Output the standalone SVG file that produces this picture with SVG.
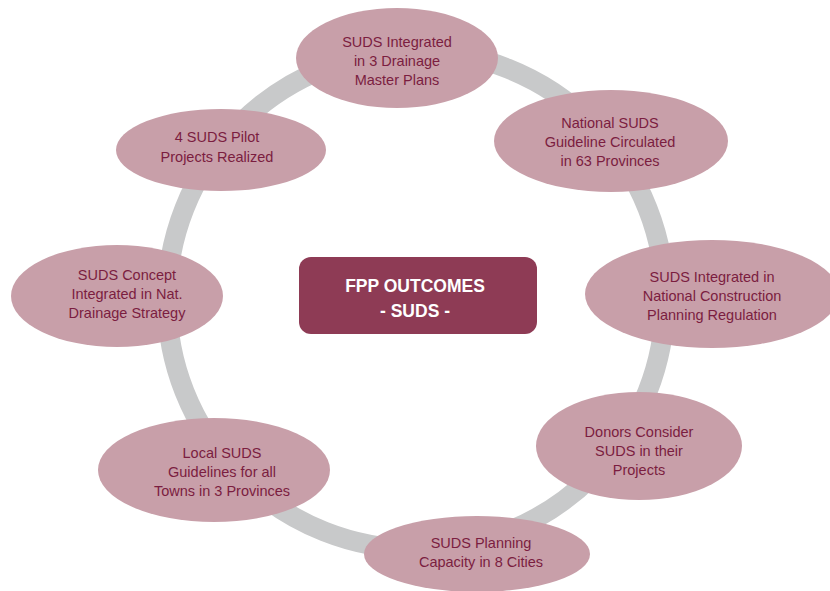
<svg xmlns="http://www.w3.org/2000/svg" width="830" height="591" viewBox="0 0 830 591">
<style>
.n ellipse{fill:#c89fa9;}
.n text{font-family:"Liberation Sans",Arial,sans-serif;font-size:14.5px;fill:#7b1d40;text-anchor:middle;}
.c text{font-family:"Liberation Sans",Arial,sans-serif;font-size:17.5px;font-weight:bold;fill:#ffffff;text-anchor:middle;}
</style>
<rect width="830" height="591" fill="#ffffff"/>
<g id="connectors">
<circle cx="416" cy="300" r="249" fill="none" stroke="#c8c9ca" stroke-width="20"/>
</g>
<g id="n1" class="n"><ellipse cx="397" cy="58" rx="101" ry="50"/><text x="397" y="47">SUDS Integrated</text><text x="397" y="66">in 3 Drainage</text><text x="397" y="85">Master Plans</text></g>
<g id="n2" class="n"><ellipse cx="611" cy="141" rx="117" ry="51"/><text x="610" y="128">National SUDS</text><text x="610" y="147">Guideline Circulated</text><text x="610" y="166">in 63 Provinces</text></g>
<g id="n3" class="n"><ellipse cx="712" cy="294" rx="127" ry="54"/><text x="712" y="282">SUDS Integrated in</text><text x="712" y="301">National Construction</text><text x="712" y="320">Planning Regulation</text></g>
<g id="n4" class="n"><ellipse cx="639" cy="446" rx="103" ry="54"/><text x="639" y="437">Donors Consider</text><text x="639" y="456">SUDS in their</text><text x="639" y="475">Projects</text></g>
<g id="n5" class="n"><ellipse cx="477" cy="554" rx="113" ry="38"/><text x="481" y="548">SUDS Planning</text><text x="481" y="567">Capacity in 8 Cities</text></g>
<g id="n6" class="n"><ellipse cx="214" cy="470" rx="116" ry="52"/><text x="222" y="458">Local SUDS</text><text x="222" y="477">Guidelines for all</text><text x="222" y="496">Towns in 3 Provinces</text></g>
<g id="n7" class="n"><ellipse cx="117" cy="296" rx="106" ry="51"/><text x="127" y="280">SUDS Concept</text><text x="127" y="299">Integrated in Nat.</text><text x="127" y="318">Drainage Strategy</text></g>
<g id="n8" class="n"><ellipse cx="221" cy="150" rx="105" ry="41"/><text x="217" y="142">4 SUDS Pilot</text><text x="217" y="162">Projects Realized</text></g>
<g id="center" class="c"><rect x="299" y="257" width="238" height="77" rx="12" fill="#8e3b55"/><text x="415" y="292">FPP OUTCOMES</text><text x="415" y="317">- SUDS -</text></g>
</svg>
